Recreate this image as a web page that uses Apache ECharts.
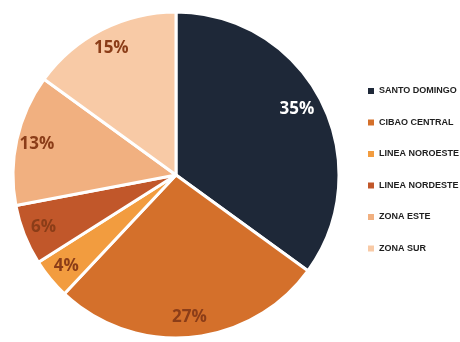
<!DOCTYPE html>
<html><head><meta charset="utf-8">
<script src="https://cdn.jsdelivr.net/npm/echarts@6/dist/echarts.min.js"></script>
<style>html,body{margin:0;padding:0;background:#fff}#c{width:460px;height:342px}</style>
</head><body><div id="c"></div>
<script>
var categories = ['SANTO DOMINGO','CIBAO CENTRAL','LINEA NOROESTE','LINEA NORDESTE','ZONA ESTE','ZONA SUR'];
var values = [35, 27, 4, 6, 13, 15];
var colors = ['#1e2838','#d4702b','#f29c3f','#c1572a','#f1b080','#f8caa6'];
var labelColors = ['#ffffff','#8b3d18','#8b3d18','#8b3d18','#8b3d18','#8b3d18'];

var data = categories.map(function(n,i){return {name:n,value:values[i],itemStyle:{color:colors[i]}};});
var labelData = categories.map(function(n,i){
  var d = {name:n,value:values[i],label:{color:labelColors[i]}};
  if (i === 0) d.label.offset = [-6,-1];
  return d;
});

var chart = echarts.init(document.getElementById('c'));
chart.setOption({
  animation:false,
  legend:{
    orient:'vertical', left:361, top:81, itemWidth:8, itemHeight:8, itemGap:21.5,
    icon:'rect', data:categories,
    textStyle:{fontFamily:'Liberation Sans', fontSize:9, color:'#1e1e1e', fontWeight:'bold', padding:[0,0,0,-1]}
  },
  series:[
    {type:'pie', center:[176,175], radius:[0,163], startAngle:90, clockwise:true,
     data:data, label:{show:false}, labelLine:{show:false},
     itemStyle:{borderColor:'#fff', borderWidth:3}, emphasis:{disabled:true}, silent:true},
    {type:'pie', center:[176,175], radius:[116,163], startAngle:90, clockwise:true,
     data:labelData, silent:true, emphasis:{disabled:true},
     itemStyle:{color:'rgba(0,0,0,0)'},
     label:{show:true, position:'inside', formatter:'{c}%', fontFamily:'Open Sans', fontWeight:'bold', fontSize:17},
     labelLine:{show:false}}
  ]
});
</script></body></html>
